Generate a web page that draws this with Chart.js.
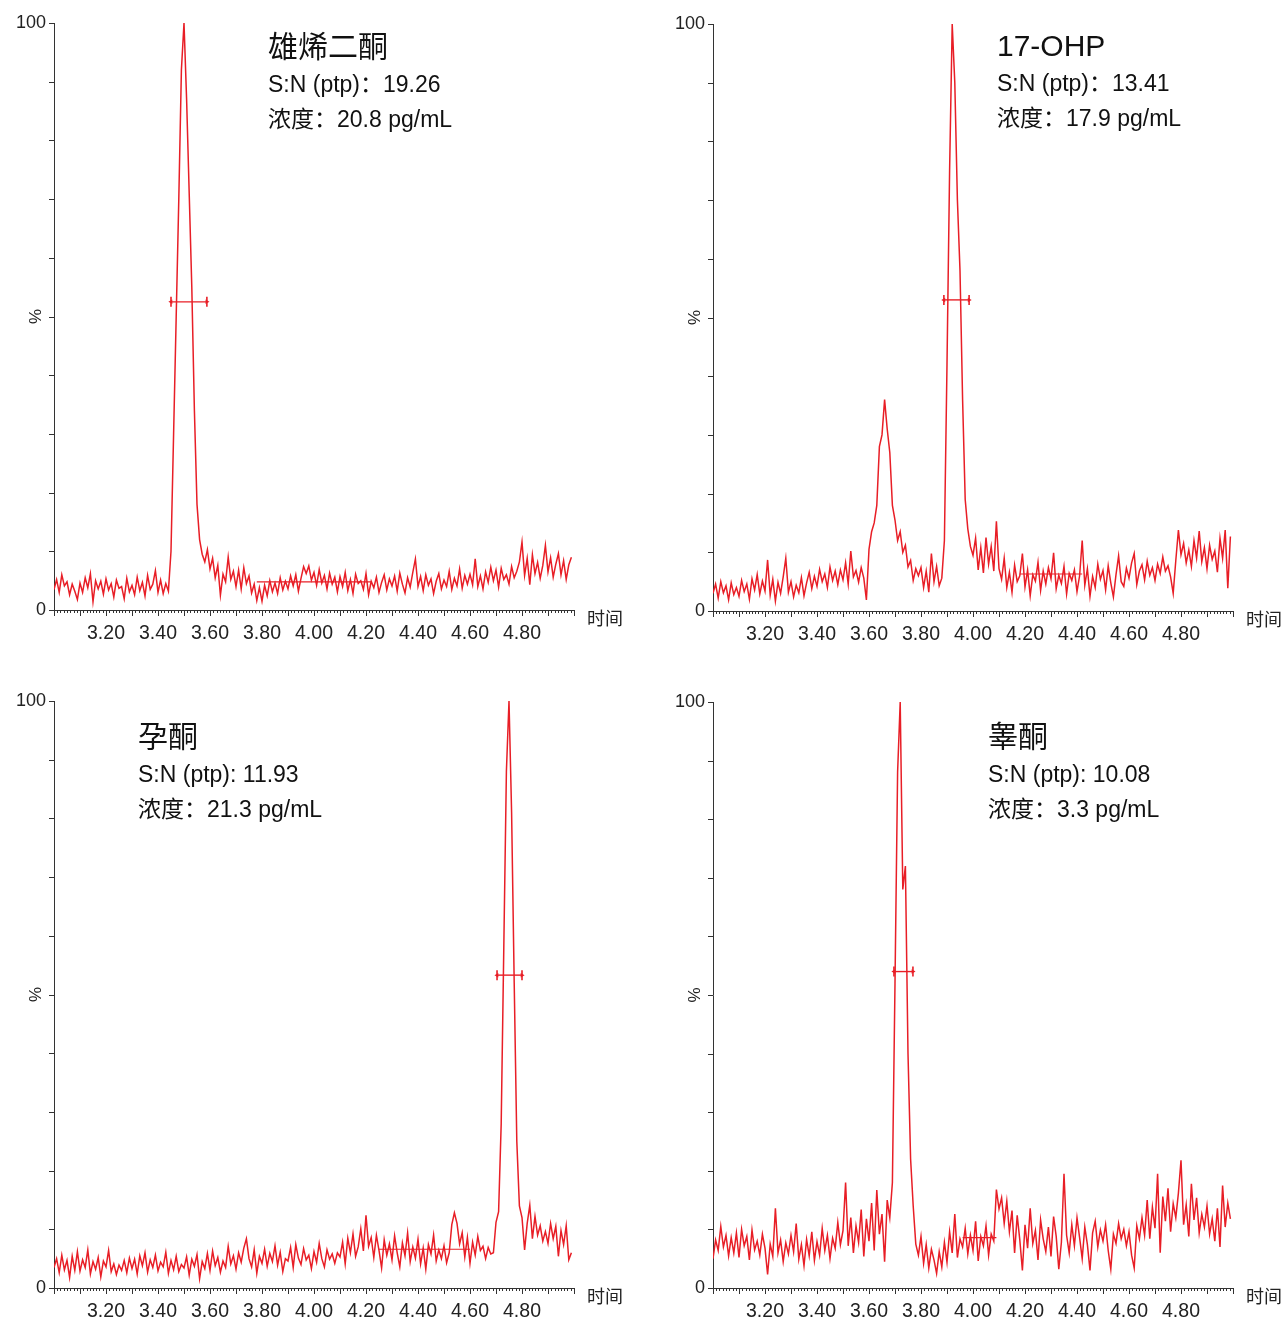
<!DOCTYPE html>
<html>
<head>
<meta charset="utf-8">
<script src="https://cdn.jsdelivr.net/npm/chart.js@4.4.1/dist/chart.umd.min.js"></script>
<style>
  body { margin: 0; background: #fff; width: 1285px; height: 1321px; overflow: hidden; position: relative;
         font-family: "Liberation Sans", "Noto Sans CJK SC", sans-serif; }
  .panel { position: absolute; }
  .note { position: absolute; color: #111; white-space: nowrap; line-height: 1; }
  .note .ttl { display: block; font-size: 30px; }
  .note .ln { display: block; font-size: 23px; }
</style>
</head>
<body>

<script>
// sampling of the traces (minutes)
const T0 = 3.00;
const DT = 0.01;

// relative intensity (%), one value per scan, 3.00 .. 4.99 min
const andro = [
  3.5,5.2,3.0,6.0,4.1,4.8,2.6,4.4,3.2,1.8,
  4.6,3.0,5.5,3.8,6.2,1.4,5.0,3.6,4.9,2.7,
  5.3,3.4,4.5,2.2,5.1,3.7,4.0,1.9,5.4,3.1,
  4.2,2.6,5.6,3.3,4.7,2.4,5.9,3.5,4.4,6.7,
  3.0,5.1,2.8,4.5,3.2,10,30,50,70,92,
  100,87,71,55,34,18,12,9.5,8.2,10.3,
  7.0,8.8,5.5,7.6,2.5,6.1,4.8,9.0,5.2,6.6,
  4.0,6.8,3.6,7.2,4.5,5.8,2.9,4.4,1.6,3.8,
  1.5,4.2,2.4,5.0,3.1,4.6,2.8,5.5,3.4,4.9,
  3.6,5.8,4.1,6.0,3.2,5.4,7.4,6.2,7.5,5.1,
  6.4,4.2,6.9,4.6,5.9,3.6,6.3,4.4,5.6,3.1,
  5.7,4.0,6.4,3.3,5.2,2.8,6.1,4.5,5.0,3.5,
  6.2,2.6,4.9,3.8,5.6,3.0,4.7,6.0,3.4,5.3,
  4.1,5.8,3.2,6.3,4.4,2.9,5.5,3.9,6.4,8.7,
  4.0,5.7,3.3,6.0,4.2,5.3,2.8,4.9,6.2,3.6,
  5.1,4.0,6.6,3.5,5.4,4.1,7.0,3.7,5.9,4.4,
  6.1,4.3,8.7,4.0,5.8,3.6,6.5,4.7,7.3,5.0,
  6.8,3.9,7.1,5.2,6.0,4.4,7.4,5.5,6.6,8.2,
  11.6,5.9,8.8,4.3,9.4,6.2,8.1,5.4,7.6,11.0,
  6.5,8.9,5.6,7.8,9.6,6.0,8.4,5.2,7.7,9.0
];

const ohp17 = [
  3.0,4.6,2.2,5.0,3.1,4.3,1.9,4.8,2.8,4.0,
  2.5,5.2,3.3,4.6,2.0,5.5,3.6,6.2,2.9,5.1,
  3.4,8.7,2.7,5.4,1.7,4.9,3.0,5.8,9.0,3.2,
  5.0,2.4,4.4,3.1,5.7,2.6,4.8,6.6,3.8,5.9,
  4.2,7.1,5.0,6.3,4.0,7.5,5.2,6.8,4.5,7.0,
  5.3,8.2,4.6,10.2,5.8,6.9,4.9,7.4,5.6,1.9,
  10.5,13.5,15,18,28,30,36,31,27,18,
  15.5,12,13.5,10,11.2,7.5,8.6,5.2,7.2,6.0,
  7.4,4.0,6.8,3.2,9.8,5.0,7.6,4.3,5.6,12,
  42,75,100,90,70,58,36,19,14,11,
  9.5,12.4,7.0,10.8,6.5,12.5,8.0,11.0,6.8,15.3,
  7.2,5.4,9.0,4.0,6.6,3.2,7.8,5.0,6.0,9.8,
  4.1,7.0,2.6,6.2,5.1,8.3,3.5,6.8,4.6,7.4,
  5.5,9.9,3.8,6.1,4.7,7.6,2.9,6.4,5.2,7.0,
  3.3,6.0,12.0,4.4,7.2,2.5,5.9,4.0,8.0,5.4,
  6.9,3.6,7.7,4.8,2.4,6.2,9.4,5.0,4.2,7.3,
  5.6,8.2,9.8,4.5,6.8,7.9,5.3,8.5,6.1,7.4,
  5.2,8.0,6.4,9.2,6.8,7.7,5.8,3.0,8.6,13.8,
  9.6,11.5,8.2,10.4,7.6,12.0,9.0,13.6,8.4,10.8,
  7.2,11.2,8.8,10.2,6.6,12.4,9.0,13.8,3.9,12.7
];

const prog = [
  3.5,5.0,2.6,5.6,3.1,4.7,1.8,5.4,3.0,6.2,
  2.9,4.8,3.5,6.5,2.4,4.5,3.2,5.2,1.9,4.6,
  3.6,6.4,2.8,4.1,2.3,3.9,3.0,4.7,2.6,5.1,
  3.3,4.9,2.4,5.5,3.8,6.0,2.7,4.8,3.5,5.6,
  2.9,4.4,3.6,6.1,2.5,4.7,3.1,5.4,2.8,4.0,
  3.4,5.3,2.2,4.9,3.7,5.7,1.6,4.5,3.3,5.9,
  3.0,6.3,3.8,5.2,2.7,4.6,3.5,7.1,4.1,5.5,
  3.2,6.0,4.4,6.8,8.4,5.0,3.6,6.5,2.5,5.4,
  4.2,6.6,3.7,5.9,4.5,7.2,3.9,6.1,2.8,5.0,
  4.6,6.9,3.5,7.4,5.1,4.0,6.7,4.8,5.6,3.3,
  6.2,4.4,7.6,5.0,3.6,6.5,4.9,5.8,4.2,6.0,
  5.3,7.8,4.1,8.5,6.0,9.2,5.4,7.0,10.1,6.3,
  12.4,7.1,8.6,5.2,9.0,6.4,3.4,8.2,5.6,7.5,
  4.8,8.9,6.0,3.6,7.7,5.5,9.4,4.5,7.0,5.1,
  8.3,4.1,6.8,3.2,7.4,5.8,9.0,4.6,6.5,5.0,
  7.2,4.3,6.0,10.8,12.8,11.0,7.5,9.4,5.3,8.6,
  4.2,7.8,5.6,8.8,6.4,7.1,5.0,6.9,5.8,6.0,
  11.2,13,28,58,88,100,81,52,25,14,
  12.0,6.5,11.0,14.1,8.4,12.2,9.0,10.6,8.0,9.6,
  7.6,11.0,8.4,10.5,5.4,9.8,7.4,10.6,4.8,6.0
];

const testo = [
  5.0,8.2,6.4,10.5,7.0,9.0,5.5,8.6,6.0,9.4,
  5.2,10.0,7.2,8.8,4.8,9.9,6.5,8.0,5.6,9.2,
  6.8,2.3,7.5,5.4,13.6,6.0,8.2,4.5,7.7,5.8,
  9.0,6.2,11.0,4.9,7.4,3.8,8.3,5.5,9.6,4.7,
  7.9,5.6,10.2,6.4,9.0,5.0,8.5,6.8,11.2,7.4,
  9.8,18.0,7.2,12.0,6.0,10.6,7.8,13.4,5.4,11.8,
  8.0,14.5,6.4,16.7,9.2,12.6,4.5,15.0,12,18,
  52,88,100,68,72,40,22,14,7.5,5.6,
  8.8,4.2,7.4,3.4,6.6,4.8,2.5,6.2,3.6,7.8,
  4.4,9.6,6.0,12.6,5.2,8.4,7.0,10.2,5.8,9.0,
  6.4,11.4,4.6,8.8,7.2,10.6,5.6,9.2,8.0,16.8,
  13.5,15.4,11.0,14.8,9.6,13.2,6.0,12.4,8.2,3.0,
  10.8,6.8,13.6,7.6,9.8,4.8,11.6,8.4,6.2,10.4,
  5.4,12.2,8.8,3.2,7.8,19.5,9.0,6.0,10.8,7.2,
  12.0,8.6,5.0,10.4,7.4,3.0,9.4,11.4,7.0,9.9,
  8.0,10.8,6.4,3.2,9.2,7.6,11.0,8.4,10.0,7.2,
  9.6,5.6,3.4,10.6,8.4,12.0,9.0,15.0,8.4,13.8,
  10.2,19.5,6.0,15.6,11.4,17.0,9.6,14.4,12.0,16.2,
  21.8,10.8,14.2,8.8,17.8,11.6,15.4,9.4,12.6,10.4,
  14.0,9.2,11.8,8.0,13.6,7.0,17.5,10.4,14.5,11.8
];

// compound labels
const compounds = ['雄烯二酮', '17-OHP', '孕酮', '睾酮'];
const snLines = ['S:N (ptp)：19.26', 'S:N (ptp)：13.41', 'S:N (ptp): 11.93', 'S:N (ptp): 10.08'];
const concLines = ['浓度：20.8 pg/mL', '浓度：17.9 pg/mL', '浓度：21.3 pg/mL', '浓度：3.3 pg/mL'];

// peak width markers and integration baselines (min, %)
const widthStart = [3.45, 3.888, 4.704, 3.696];
const widthEnd   = [3.588, 3.985, 4.80, 3.769];
const widthLevel = [52.5, 53, 53.3, 54];
const baseStart  = [3.78, 4.18, 4.25, 3.96];
const baseEnd    = [4.22, 4.42, 4.60, 4.09];
const baseLevel  = [4.8, 6.3, 6.6, 8.6];

const xTickLabels = ['3.20', '3.40', '3.60', '3.80', '4.00', '4.20', '4.40', '4.60', '4.80'];
const yTickLabels = ['0', '100'];

const series = [andro, ohp17, prog, testo];
const RED = 'rgb(232, 30, 38)';
const AXIS = '#333';

// panel boxes: canvas position, chart area insets
const boxes = [
  { left: 0,   top: 0,   w: 642, h: 640, padTop: 23, padRight: 68, xh: 30 },
  { left: 659, top: 0,   w: 626, h: 640, padTop: 24, padRight: 52, xh: 29 },
  { left: 0,   top: 678, w: 642, h: 640, padTop: 23, padRight: 68, xh: 30 },
  { left: 659, top: 678, w: 626, h: 640, padTop: 24, padRight: 52, xh: 30 }
];
const notePos = [
  { left: 268, top: 32 }, { left: 997, top: 31 },
  { left: 138, top: 722 }, { left: 988, top: 722 }
];

const deco = {
  id: 'deco',
  afterDraw(chart) {
    const { ctx, chartArea: a, scales: { x, y } } = chart;
    ctx.save();
    ctx.strokeStyle = AXIS;
    ctx.lineWidth = 1;
    ctx.beginPath();
    for (let k = 0; k <= 160; k++) {
      const px = Math.round(x.getPixelForValue(3 + k * 0.0125)) + 0.5;
      const len = k % 8 === 0 ? 6 : 3;
      ctx.moveTo(px, a.bottom);
      ctx.lineTo(px, a.bottom + len);
    }
    for (let k = 0; k <= 10; k++) {
      const py = Math.round(y.getPixelForValue(k * 10)) + 0.5;
      ctx.moveTo(a.left, py);
      ctx.lineTo(a.left - 5, py);
    }
    ctx.stroke();

    ctx.fillStyle = '#222';
    ctx.font = '17px "Liberation Sans", sans-serif';
    ctx.textAlign = 'center';
    ctx.textBaseline = 'middle';
    ctx.save();
    ctx.translate(a.left - 18, y.getPixelForValue(50));
    ctx.rotate(-Math.PI / 2);
    ctx.fillText('%', 0, 0);
    ctx.restore();

    ctx.font = '18px "Noto Sans CJK SC", sans-serif';
    ctx.textAlign = 'left';
    ctx.fillText('时间', a.right + 13, a.bottom + 8);
    ctx.restore();
  }
};

function makePanel(i) {
  const b = boxes[i];
  const holder = document.createElement('div');
  holder.className = 'panel';
  holder.style.left = b.left + 'px';
  holder.style.top = b.top + 'px';
  holder.style.width = b.w + 'px';
  holder.style.height = b.h + 'px';
  const cv = document.createElement('canvas');
  holder.appendChild(cv);
  document.body.appendChild(holder);

  const trace = series[i].map((v, k) => ({ x: T0 + k * DT, y: v }));

  new Chart(cv, {
    type: 'line',
    data: {
      datasets: [
        {
          data: trace,
          borderColor: RED,
          borderWidth: 1.5,
          pointRadius: 0,
          tension: 0
        },
        {
          data: [{ x: widthStart[i], y: widthLevel[i] }, { x: widthEnd[i], y: widthLevel[i] }],
          borderColor: RED,
          borderWidth: 1.4,
          pointStyle: 'line',
          pointRotation: 90,
          pointRadius: 5,
          pointBorderWidth: 1.6,
          pointBorderColor: RED
        },
        {
          data: [{ x: widthStart[i], y: widthLevel[i] }, { x: widthEnd[i], y: widthLevel[i] }],
          showLine: false,
          pointStyle: 'triangle',
          pointRotation: ctx => ctx.dataIndex === 0 ? 270 : 90,
          pointRadius: 2.6,
          pointBackgroundColor: RED,
          pointBorderColor: RED,
          pointBorderWidth: 0
        },
        {
          data: [{ x: baseStart[i], y: baseLevel[i] }, { x: baseEnd[i], y: baseLevel[i] }],
          borderColor: RED,
          borderWidth: 1.2,
          pointRadius: 0
        }
      ]
    },
    options: {
      responsive: true,
      maintainAspectRatio: false,
      animation: false,
      events: [],
      layout: { padding: { left: 0, right: b.padRight, top: b.padTop, bottom: 0 } },
      plugins: { legend: { display: false }, tooltip: { enabled: false } },
      scales: {
        x: {
          type: 'linear',
          min: 3.0,
          max: 5.0,
          afterFit: s => { s.height = b.xh; },
          afterBuildTicks: s => { s.ticks = xTickLabels.map(t => ({ value: parseFloat(t) })); },
          ticks: {
            padding: 12,
            color: '#222',
            font: { family: '"Liberation Sans", sans-serif', size: 19.5 },
            maxRotation: 0,
            callback: v => v.toFixed(2)
          },
          grid: { display: false, drawTicks: false },
          border: { display: true, color: AXIS, width: 1 }
        },
        y: {
          min: 0,
          max: 100,
          afterFit: s => { s.width = 54; },
          afterBuildTicks: s => { s.ticks = yTickLabels.map(t => ({ value: parseFloat(t) })); },
          ticks: {
            padding: 8,
            color: '#222',
            font: { family: '"Liberation Sans", sans-serif', size: 18 },
            callback: v => String(v)
          },
          grid: { display: false, drawTicks: false },
          border: { display: true, color: AXIS, width: 1 }
        }
      }
    },
    plugins: [deco]
  });

  const note = document.createElement('div');
  note.className = 'note';
  note.style.left = notePos[i].left + 'px';
  note.style.top = notePos[i].top + 'px';
  note.innerHTML = '<span class="ttl">' + compounds[i] + '</span>' +
    '<span class="ln" style="margin-top:11px">' + snLines[i] + '</span>' +
    '<span class="ln" style="margin-top:12px">' + concLines[i] + '</span>';
  document.body.appendChild(note);
}

for (let i = 0; i < 4; i++) makePanel(i);
</script>
</body>
</html>
